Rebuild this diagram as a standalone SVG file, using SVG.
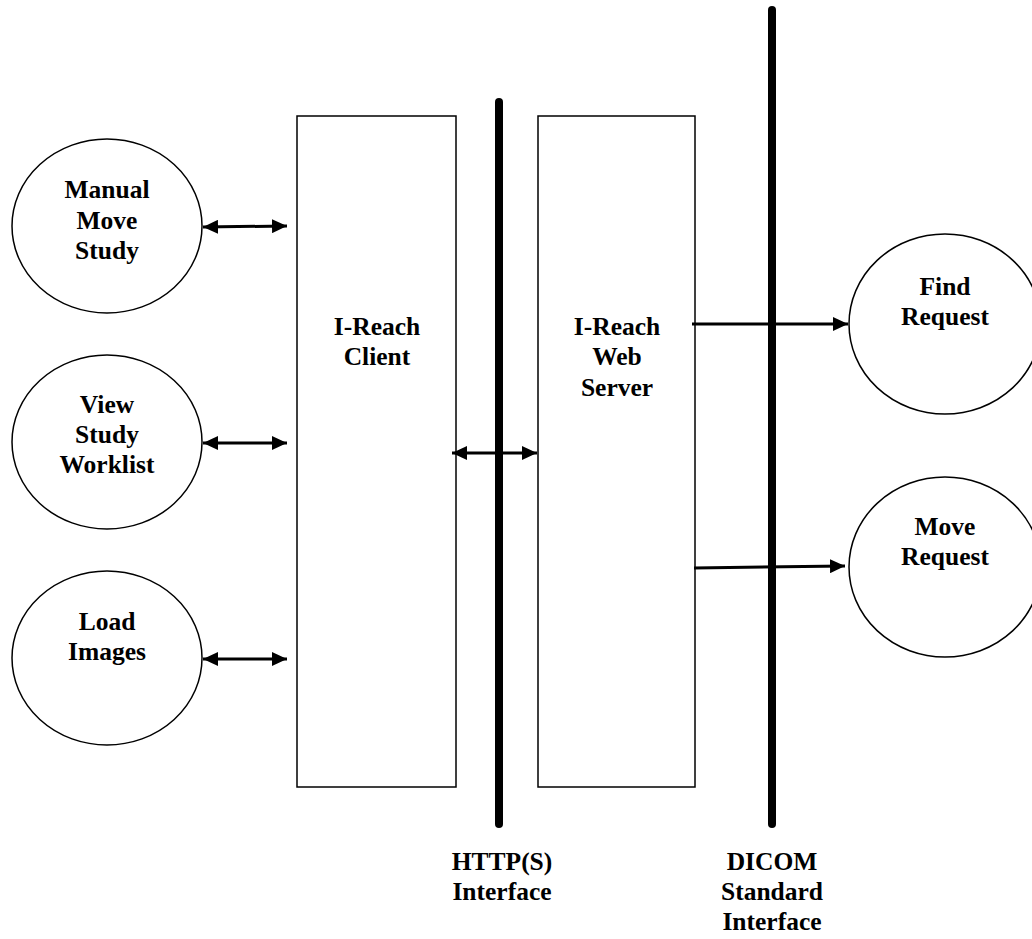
<svg xmlns="http://www.w3.org/2000/svg" width="1032" height="939" viewBox="0 0 1032 939">
<defs>
<style>
.n{fill:#fff;stroke:#000;stroke-width:1.5}
.t{font-family:"Liberation Serif","Times New Roman",serif;font-weight:bold;font-size:25.5px;text-anchor:middle;fill:#000}
.c{stroke:#000;stroke-width:3;fill:none}
.bar{stroke:#000;stroke-width:8;stroke-linecap:round}
</style>
<marker id="ah" viewBox="0 0 15 14" refX="15" refY="7" markerWidth="5" markerHeight="4.67" orient="auto-start-reverse" markerUnits="strokeWidth">
<path d="M0,0 L15,7 L0,14 z" fill="#000"/>
</marker>
</defs>
<rect width="1032" height="939" fill="#fff"/>
<g id="manual-move-study"><ellipse class="n" cx="107" cy="226" rx="95" ry="87"/><text class="t" x="107" y="198">Manual</text><text class="t" x="107" y="229">Move</text><text class="t" x="107" y="259">Study</text></g>
<g id="view-study-worklist"><ellipse class="n" cx="107" cy="442" rx="95" ry="87"/><text class="t" x="107" y="413">View</text><text class="t" x="107" y="443">Study</text><text class="t" x="107" y="473">Worklist</text></g>
<g id="load-images"><ellipse class="n" cx="107" cy="658" rx="95" ry="87"/><text class="t" x="107" y="630">Load</text><text class="t" x="107" y="660">Images</text></g>
<g id="client"><rect class="n" x="297" y="116" width="159" height="671"/><text class="t" x="377" y="335">I-Reach</text><text class="t" x="377" y="365">Client</text></g>
<g id="server"><rect class="n" x="538" y="116" width="157" height="671"/><text class="t" x="617" y="335">I-Reach</text><text class="t" x="617" y="365">Web</text><text class="t" x="617" y="396">Server</text></g>
<g id="find-request"><ellipse class="n" cx="945" cy="324" rx="96" ry="90"/><text class="t" x="945" y="295">Find</text><text class="t" x="945" y="325">Request</text></g>
<g id="move-request"><ellipse class="n" cx="945" cy="567" rx="96" ry="90"/><text class="t" x="945" y="535">Move</text><text class="t" x="945" y="565">Request</text></g>
<g id="http-interface"><line class="bar" x1="499" y1="102" x2="499" y2="824"/><text class="t" x="502" y="870">HTTP(S)</text><text class="t" x="502" y="900">Interface</text></g>
<g id="dicom-interface"><line class="bar" x1="772" y1="10" x2="772" y2="824"/><text class="t" x="772" y="870">DICOM</text><text class="t" x="772" y="900">Standard</text><text class="t" x="772" y="930">Interface</text></g>
<g id="connectors">
<line class="c" x1="203" y1="227" x2="287" y2="226" marker-start="url(#ah)" marker-end="url(#ah)"/>
<line class="c" x1="203" y1="443" x2="287" y2="443" marker-start="url(#ah)" marker-end="url(#ah)"/>
<line class="c" x1="203" y1="659" x2="287" y2="659" marker-start="url(#ah)" marker-end="url(#ah)"/>
<line class="c" x1="452" y1="453" x2="537" y2="453" marker-start="url(#ah)" marker-end="url(#ah)"/>
<line class="c" x1="692" y1="324" x2="848" y2="324" marker-end="url(#ah)"/>
<line class="c" x1="694" y1="568" x2="845" y2="566" marker-end="url(#ah)"/>
</g>
</svg>
